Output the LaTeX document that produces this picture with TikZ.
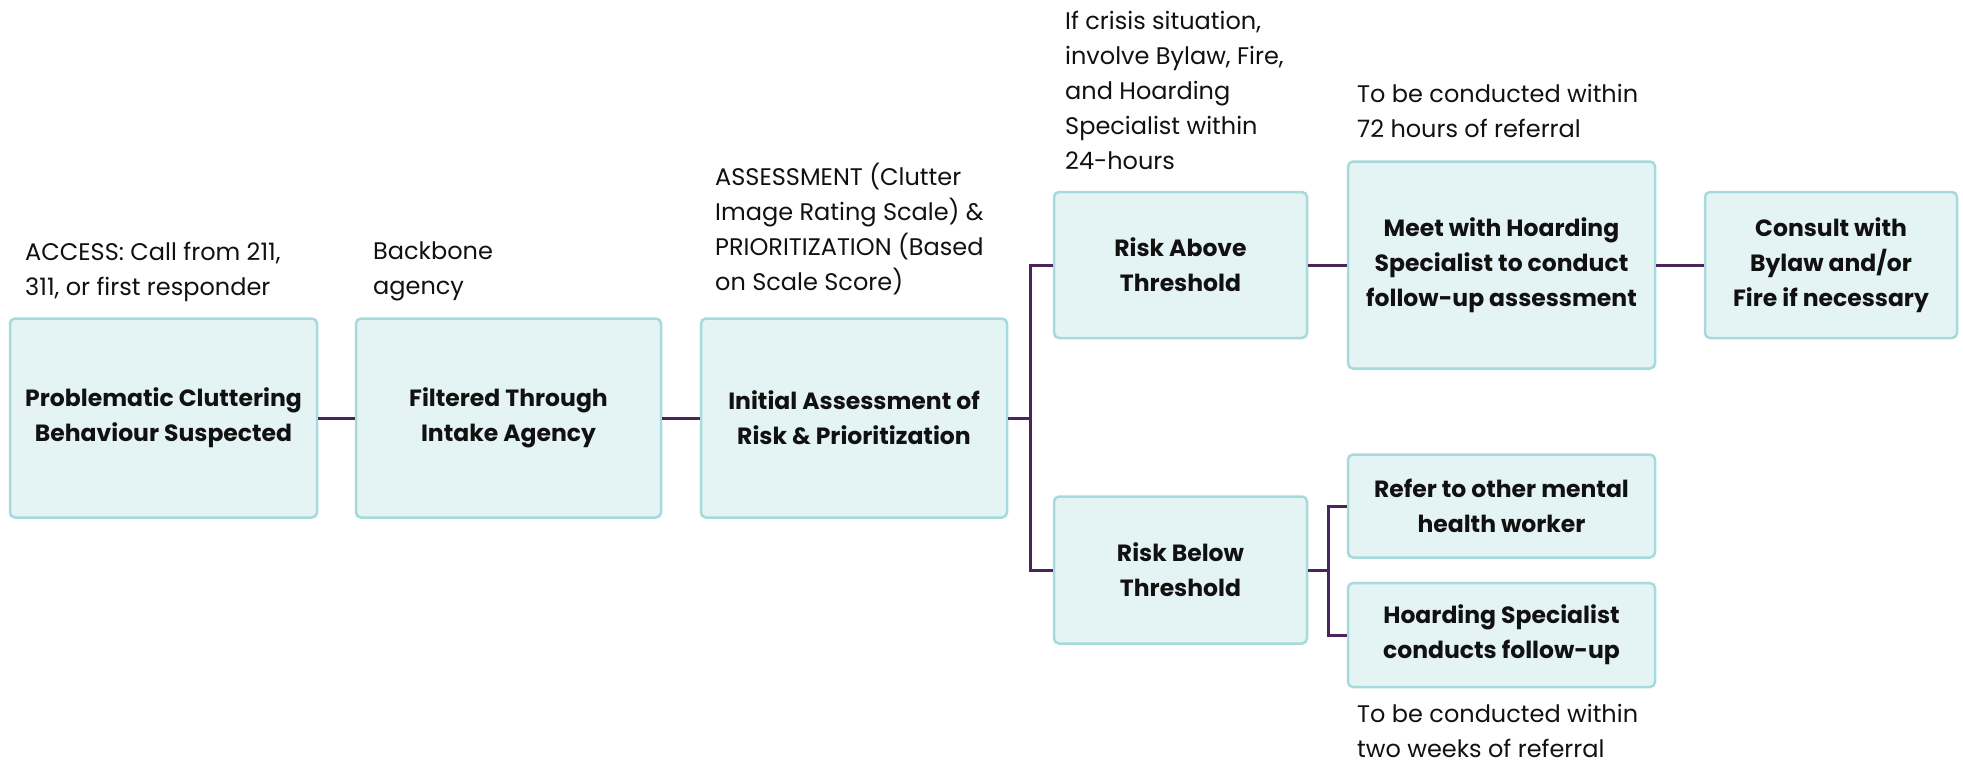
\documentclass[tikz,border=0pt]{standalone}
\usepackage{fontspec}
\setmainfont{Poppins}
\definecolor{boxfill}{HTML}{E4F4F4}
\definecolor{boxedge}{HTML}{A6DADC}
\definecolor{linkpurple}{HTML}{4A245A}
\definecolor{textdark}{HTML}{111111}
\begin{document}
\begin{tikzpicture}[x=1pt,y=-1pt,
    box/.style={draw=boxedge,fill=boxfill,line width=2.5pt,rounded corners=5pt,align=center,inner sep=0pt,
      text=textdark,font=\fontsize{23.5}{35}\selectfont\bfseries},
    note/.style={anchor=north west,align=left,inner sep=0pt,text=textdark,font=\fontsize{24}{35}\selectfont},
    link/.style={draw=linkpurple,line width=3pt}]
	\useasboundingbox (0,0) rectangle (1963,763);
	% main row
	\node[box,minimum width=307,minimum height=199] (suspect) at (163.5,418) {Problematic Cluttering\\Behaviour Suspected};
	\node[box,minimum width=305,minimum height=199] (intake) at (508.5,418) {Filtered Through\\Intake Agency};
	\node[box,minimum width=306,minimum height=199] (assess) at (854,418) {Initial Assessment of\\Risk \& Prioritization};
	% upper branch
	\node[box,minimum width=253,minimum height=146] (above) at (1180.5,265) {Risk Above\\Threshold};
	\node[box,minimum width=307,minimum height=207] (meet) at (1501.5,265) {Meet with Hoarding\\Specialist to conduct\\follow-up assessment};
	\node[box,minimum width=252,minimum height=146] (consult) at (1831,265) {Consult with\\Bylaw and/or\\Fire if necessary};
	% lower branch
	\node[box,minimum width=253,minimum height=147] (below) at (1180.5,570) {Risk Below\\Threshold};
	\node[box,minimum width=307,minimum height=103] (refer) at (1501.5,506) {Refer to other mental\\health worker};
	\node[box,minimum width=307,minimum height=104] (hoard) at (1501.5,635) {Hoarding Specialist\\conducts follow-up};
	% notes
	\node[note] (accessnote) at (25,242) {ACCESS: Call from 211,\\311, or first responder};
	\node[note] (backbonenote) at (373,242) {Backbone\\agency};
	\node[note] (assessnote) at (715,163) {ASSESSMENT (Clutter\\Image Rating Scale) \&\\PRIORITIZATION (Based\\on Scale Score)};
	\node[note] (crisisnote) at (1065,11) {If crisis situation,\\involve Bylaw, Fire,\\and Hoarding\\Specialist within\\24-hours};
	\node[note] (meetnote) at (1357,84) {To be conducted within\\72 hours of referral};
	\node[note] (hoardnote) at (1357,704) {To be conducted within\\two weeks of referral};
	% connectors
	\coordinate (split) at (1030,418);
	\coordinate (splitlow) at (1328,570);
	\draw[link] (suspect) -- (intake);
	\draw[link] (intake) -- (assess);
	\draw[link] (assess.east) -- (split) |- (above.west);
	\draw[link] (split) |- (below.west);
	\draw[link] (above) -- (meet);
	\draw[link] (meet) -- (consult);
	\draw[link] (below.east) -- (splitlow) |- (refer.west);
	\draw[link] (splitlow) |- (hoard.west);
\end{tikzpicture}
\end{document}
